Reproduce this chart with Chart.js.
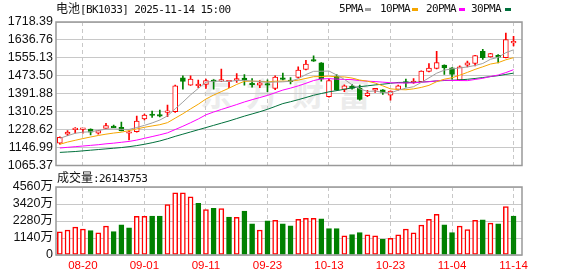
<!DOCTYPE html>
<html>
<head>
<meta charset="utf-8">
<script src="https://cdn.jsdelivr.net/npm/chart.js@4.4.1/dist/chart.umd.min.js"></script>
<style>
    body { margin: 0; background: #fff; }
    #wrap { position: relative; width: 578px; height: 276px; overflow: hidden; font-family: 'DejaVu Sans Mono', monospace; }
    .txt { position: absolute; font-size: 11px; letter-spacing: -0.6px; color: #111; white-space: nowrap; line-height: 12px; z-index: 3; }
    .cjk { font-family: 'Noto Sans CJK SC', sans-serif; font-size: 12px; letter-spacing: 0; }
    .dash { position: absolute; width: 6px; height: 3px; z-index: 3; }
    #wm { position: absolute; left: 200px; top: 76px; font: bold 32px/32px 'Noto Sans CJK SC', sans-serif; letter-spacing: 14px; color: #ececec; white-space: nowrap; }
    canvas { position: absolute; left: 0; }
</style>
</head>
<body>
<div id="wrap">
    <div id="wm">东方财富</div>
    <canvas id="volume" width="578" height="106" style="top:170px"></canvas>
    <canvas id="kline" width="578" height="176" style="top:0"></canvas>

    <div class="txt" style="left:56px;top:2px"><span class="cjk">电池</span>[BK1033] 2025-11-14 15:00</div>
    <div class="txt" style="left:339px;top:3px">5PMA</div>
    <div class="dash" style="left:365px;top:8px;background:#a0a0a0"></div>
    <div class="txt" style="left:380px;top:3px">10PMA</div>
    <div class="dash" style="left:412px;top:8px;background:#f5a600"></div>
    <div class="txt" style="left:426px;top:3px">20PMA</div>
    <div class="dash" style="left:459px;top:8px;background:#ff00ff"></div>
    <div class="txt" style="left:471px;top:3px">30PMA</div>
    <div class="dash" style="left:505px;top:8px;background:#00703c"></div>
    <div class="txt" style="left:57px;top:171px"><span class="cjk">成交量</span>:26143753</div>
</div>
<script>
const dates = [
    '08-15', '08-18', '08-19', '08-20', '08-21', '08-22', '08-25', '08-26', '08-27', '08-28', '08-29',
    '09-01', '09-02', '09-03', '09-04', '09-05', '09-08', '09-09', '09-10', '09-11', '09-12',
    '09-15', '09-16', '09-17', '09-18', '09-19', '09-22', '09-23', '09-24', '09-25', '09-26', '09-29', '09-30',
    '10-09', '10-10', '10-13', '10-14', '10-15', '10-16', '10-17', '10-20', '10-21', '10-22', '10-23', '10-24',
    '10-27', '10-28', '10-29', '10-30', '10-31',
    '11-03', '11-04', '11-05', '11-06', '11-07', '11-10', '11-11', '11-12', '11-13', '11-14'
];
const labelIdx = [3, 11, 19, 27, 35, 43, 51, 59];

const opens = [1166.6, 1207.5, 1228.6, 1230.1, 1231.6, 1212, 1234.6, 1240.7, 1239.2, 1212,
    1219.5, 1277, 1295.5, 1293, 1307.2, 1310.2, 1464.4, 1431.2, 1428.1, 1434.2,
    1452.3, 1449.3, 1446.3, 1452.3, 1462.9, 1440.2, 1431.2, 1437.2, 1416, 1464.4,
    1452, 1465.9, 1502.2, 1547.6, 1532.5, 1378.3, 1472, 1411.5, 1425.1, 1416,
    1382.8, 1408.5, 1410, 1385.8, 1411.5, 1446.3, 1441.8, 1446.3, 1493.2, 1506.8,
    1521.9, 1509.8, 1453.8, 1521.9, 1529.4, 1585.4, 1559.7, 1567.2, 1556.6, 1623.2];
const highs = [1196, 1224.1, 1237.7, 1234.5, 1232, 1225.5, 1257.3, 1249.8, 1263.4, 1222.6,
    1290.6, 1299.7, 1313.3, 1317.8, 1340.5, 1431, 1473.5, 1473.5, 1453.8, 1458.4,
    1456.9, 1503.7, 1449.3, 1484, 1479.5, 1461.4, 1452.3, 1455.4, 1473.5, 1485.6,
    1465, 1514.3, 1544.5, 1564, 1534, 1458.4, 1479.5, 1432.7, 1434.2, 1431.2,
    1407, 1416, 1410.5, 1405.5, 1431.2, 1458.4, 1461.4, 1496.2, 1529.4, 1585.4,
    1523.4, 1511.3, 1518.9, 1540, 1567.2, 1594.4, 1576.3, 1570.2, 1668.5, 1653.4];
const lows = [1163, 1201.4, 1212, 1212, 1204.4, 1207.5, 1234, 1237, 1222.6, 1181.9,
    1216.5, 1272.5, 1284.5, 1286, 1287.6, 1307, 1413, 1430, 1419.1, 1416,
    1413, 1446.3, 1419, 1443.2, 1431.2, 1422, 1419, 1400.9, 1410, 1455,
    1437, 1464.4, 1500.7, 1538.5, 1449.3, 1376.8, 1407, 1400.9, 1413, 1363.1,
    1378.3, 1397.9, 1388.8, 1363.1, 1408.5, 1422.1, 1438.7, 1444.8, 1491.6, 1505.3,
    1479.5, 1458.4, 1452.3, 1514.3, 1518.9, 1547.6, 1558.2, 1532.5, 1555.1, 1609.5];
const closes = [1193.8, 1218, 1232, 1234, 1216.5, 1224.1, 1246.8, 1237.7, 1224.1, 1215,
    1267.9, 1295.1, 1293, 1290, 1310.2, 1428.1, 1447.8, 1458.4, 1435.7, 1452.3,
    1447.8, 1452.3, 1449.3, 1461.4, 1452.3, 1432.7, 1441.8, 1431.2, 1467.5, 1456.9,
    1447, 1499.2, 1526.4, 1540, 1458.4, 1452, 1408.5, 1428.1, 1416, 1366.2,
    1394.9, 1416, 1397.9, 1404, 1428.1, 1440.2, 1449.3, 1494.7, 1508.3, 1534,
    1509.8, 1479.5, 1514.3, 1532.5, 1565.7, 1556.6, 1574.8, 1558.2, 1638.3, 1630.7];

const ma5 = [1189, 1201, 1212, 1217, 1218.9, 1224.9, 1230.7, 1231.8, 1229.8, 1229.5,
    1238.3, 1248, 1259, 1272.2, 1291.2, 1323.3, 1353.8, 1386.9, 1416, 1444.5,
    1448.4, 1449.3, 1447.5, 1452.6, 1452.6, 1449.6, 1447.5, 1443.9, 1445.1, 1446,
    1448.9, 1460.4, 1479.4, 1493.9, 1494.2, 1495.2, 1477.1, 1457.4, 1432.6, 1414.2,
    1402.7, 1404.2, 1398.2, 1395.8, 1408.2, 1417.2, 1423.9, 1443.3, 1464.1, 1485.3,
    1499.2, 1505.3, 1509.2, 1514, 1520.4, 1529.7, 1548.8, 1557.6, 1578.7, 1591.7];
const ma10 = [1162, 1172, 1180, 1188, 1195, 1202, 1208, 1213, 1217, 1224.2,
    1231.6, 1239.3, 1245.4, 1251, 1260.4, 1280.8, 1300.9, 1323, 1344.1, 1367.9,
    1385.8, 1401.6, 1417.2, 1434.3, 1448.5, 1449, 1448.4, 1445.7, 1448.9, 1449.3,
    1449.2, 1453.9, 1461.6, 1469.5, 1470.1, 1472, 1468.7, 1468.4, 1463.3, 1454.2,
    1449, 1440.7, 1427.8, 1414.2, 1411.2, 1410, 1414.1, 1420.7, 1430, 1446.7,
    1458.2, 1464.6, 1476.2, 1489.1, 1502.8, 1514.5, 1527, 1533.4, 1546.4, 1556];
const ma20 = [1145, 1148, 1151, 1154, 1157, 1160, 1164, 1167, 1171, 1175,
    1181, 1189, 1197, 1205, 1214, 1229, 1244, 1260, 1277, 1296,
    1308.7, 1320.4, 1331.3, 1342.7, 1354.5, 1364.9, 1374.6, 1384.3, 1396.5, 1408.6,
    1417.5, 1427.7, 1439.4, 1451.9, 1459.3, 1460.5, 1458.6, 1457, 1456.1, 1451.8,
    1449.1, 1447.3, 1444.7, 1441.9, 1440.6, 1441, 1441.4, 1444.6, 1446.6, 1450.5,
    1453.6, 1452.6, 1452, 1451.6, 1457, 1462.2, 1470.5, 1477, 1488.2, 1501.4];
const ma30 = [1125, 1127, 1129, 1132, 1135, 1138, 1141, 1144, 1147, 1151,
    1156, 1162, 1169, 1177, 1187, 1198, 1208, 1218, 1228, 1238,
    1248, 1258, 1268, 1279, 1290, 1300, 1310, 1321, 1334, 1347.1,
    1355.6, 1364.9, 1374.8, 1385, 1393, 1400.6, 1406, 1412.3, 1418.7, 1423.8,
    1428, 1432, 1435.5, 1439.3, 1443.3, 1443.7, 1443.7, 1444.9, 1447.4, 1450.1,
    1452.1, 1453.1, 1455.2, 1457.6, 1461.4, 1465.5, 1469.9, 1474.2, 1479.9, 1485.7];

// volume in 万
const volumes = [1546, 1677, 1873, 1743, 1634, 1482, 1939, 1569, 2026, 1830,
    2593, 2593, 2614, 2614, 3376, 4161, 4161, 3900, 3464, 3050,
    3137, 3115, 2549, 2527, 2941, 2092, 1677, 2287, 2331, 2092,
    1960, 2397, 2461, 2461, 2418, 1765, 1765, 1285, 1372, 1503,
    1351, 1285, 1045, 1111, 1351, 1743, 1482, 2004, 2397, 2723,
    2026, 1503, 1939, 1699, 2331, 2353, 2135, 2092, 3246, 2614];

const priceTicks = [1065.37, 1146.99, 1228.62, 1310.25, 1391.88, 1473.50, 1555.13, 1636.76, 1718.39];
const volTicks = [0, 1140, 2280, 3420, 4560];

const RED = '#ff0000';
const GREEN = '#008000';
const GRID = '#c8c8c8';

const candleUp = closes.map((c, i) => c >= opens[i]);
const volUp = closes.map((c, i) => i === 0 || c >= closes[i - 1]);

const frame = {
    id: 'frame',
    afterDraw(chart) {
        const { ctx, chartArea: a } = chart;
        ctx.save();
        ctx.strokeStyle = '#999';
        ctx.lineWidth = 1.5;
        ctx.strokeRect(a.left, a.top, a.right - a.left, a.bottom - a.top);
        ctx.restore();
    }
};

function maLine(values, color) {
    return {
        type: 'line',
        data: values.map((v, i) => ({ x: i, y: v })),
        borderColor: color,
        borderWidth: 1,
        pointRadius: 0,
        tension: 0,
        order: -1
    };
}

function xScale(axisHeight, showLabels) {
    return {
        type: 'linear',
        min: -0.5,
        max: 60.1,
        offset: false,
        afterBuildTicks: s => { s.ticks = labelIdx.map(v => ({ value: v })); },
        afterFit: s => { s.height = axisHeight; },
        ticks: {
            display: showLabels,
            autoSkip: false,
            maxRotation: 0,
            padding: 4,
            color: RED,
            font: { family: 'Liberation Sans', size: 11.5 },
            callback: v => dates[v]
        },
        grid: { color: GRID, offset: false, drawTicks: false },
        border: { display: false, dash: [4, 3] }
    };
}

function yScale(min, max, tickValues, fmt) {
    return {
        min: min,
        max: max,
        afterBuildTicks: s => { s.ticks = tickValues.map(v => ({ value: v })); },
        afterFit: s => { s.width = 56; },
        ticks: {
            autoSkip: false,
            padding: 3,
            color: '#111',
            font: { family: "'Liberation Sans', 'Noto Sans CJK SC'", size: 12.5 },
            callback: fmt
        },
        grid: { color: GRID, drawTicks: false },
        border: { display: false }
    };
}

function renderKline() {
    new Chart(document.getElementById('kline'), {
        type: 'bar',
        data: {
            datasets: [
                maLine(ma5, '#a0a0a0'),
                maLine(ma10, '#f5a600'),
                maLine(ma20, '#ff00ff'),
                maLine(ma30, '#00703c'),
                {
                    data: closes.map((c, i) => ({ x: i, y: [opens[i], c] })),
                    backgroundColor: candleUp.map(u => u ? '#ffffff' : GREEN),
                    borderColor: candleUp.map(u => u ? RED : GREEN),
                    borderWidth: 1,
                    borderSkipped: false,
                    barThickness: 5,
                    minBarLength: 1.5,
                    grouped: false,
                    order: 0
                },
                {
                    data: lows.map((l, i) => ({ x: i, y: [l, highs[i]] })),
                    backgroundColor: candleUp.map(u => u ? RED : GREEN),
                    borderWidth: 0,
                    barThickness: 1,
                    grouped: false,
                    order: 1
                }
            ]
        },
        options: {
            responsive: false,
            animation: false,
            layout: { padding: { top: 22, right: 56, bottom: 0, left: 0 } },
            plugins: { legend: { display: false }, tooltip: { enabled: false } },
            scales: {
                x: xScale(10, false),
                y: yScale(1065.37, 1718.39, priceTicks, v => v.toFixed(2))
            }
        },
        plugins: [frame]
    });
}

function renderVolume() {
    new Chart(document.getElementById('volume'), {
        type: 'bar',
        data: {
            datasets: [{
                data: volumes.map((v, i) => ({ x: i, y: v })),
                backgroundColor: volUp.map(u => u ? '#ffffff' : GREEN),
                borderColor: volUp.map(u => u ? RED : GREEN),
                borderWidth: 1.5,
                borderSkipped: false,
                barThickness: 5,
                grouped: false
            }]
        },
        options: {
            responsive: false,
            animation: false,
            layout: { padding: { top: 17, right: 56, bottom: 0, left: 0 } },
            plugins: { legend: { display: false }, tooltip: { enabled: false } },
            scales: {
                x: xScale(21, true),
                y: yScale(0, 4560, volTicks, v => v === 0 ? '0' : v + '万')
            }
        },
        plugins: [frame]
    });
}

renderKline();
renderVolume();
</script>
</body>
</html>
